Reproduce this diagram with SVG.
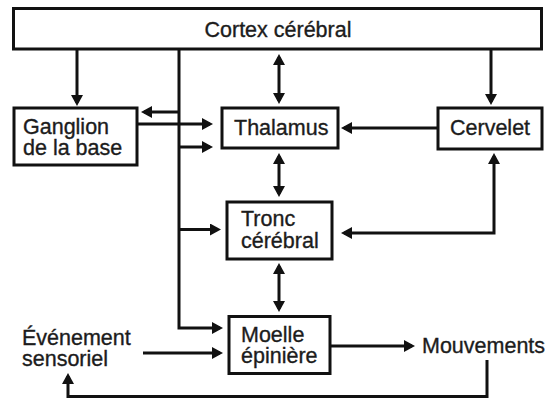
<svg xmlns="http://www.w3.org/2000/svg" width="546" height="403" viewBox="0 0 546 403">
  <style>
    .box { fill: #fff; stroke: #111; stroke-width: 3; }
    .lbl { font-family: "Liberation Sans", Arial, Helvetica, sans-serif; font-size: 21.5px; fill: #1c1c1c; stroke: #1c1c1c; stroke-width: 0.35; }
    .wire { fill: none; stroke: #111; stroke-width: 3; stroke-linejoin: miter; }
    .one { marker-end: url(#head); }
    .two { marker-start: url(#head); marker-end: url(#head); }
  </style>
  <defs>
    <marker id="head" markerUnits="userSpaceOnUse" markerWidth="12" markerHeight="13" refX="8" refY="6" orient="auto-start-reverse" viewBox="0 0 12 13">
      <path d="M0,0 L11,6 L0,12 Z" fill="#111"/>
    </marker>
  </defs>

  <rect width="546" height="403" fill="#fff"/>

  <g id="connectors">
    <path class="wire one" d="M77 49 V103"/>
    <path class="wire one" d="M179 49 V328 H220"/>
    <path class="wire one" d="M179 112 H144"/>
    <path class="wire one" d="M137 124 H210"/>
    <path class="wire one" d="M179 147 H210"/>
    <path class="wire one" d="M179 229.5 H218"/>
    <path class="wire two" d="M279 57 V101"/>
    <path class="wire two" d="M279 156 V194"/>
    <path class="wire two" d="M279 266 V309"/>
    <path class="wire one" d="M491 49 V102"/>
    <path class="wire one" d="M438 128 H344"/>
    <path class="wire two" d="M344 233 H494 V156"/>
    <path class="wire one" d="M143 353 H220"/>
    <path class="wire one" d="M330 346 H412"/>
    <path class="wire one" d="M487 360 V396.5 H68 V376"/>
  </g>

  <g id="cortex">
    <rect class="box" x="13.5" y="8.5" width="528" height="40.5"/>
    <text class="lbl" x="278" y="37" text-anchor="middle">Cortex cérébral</text>
  </g>

  <g id="ganglion">
    <rect class="box" x="14" y="108" width="123" height="57"/>
    <text class="lbl" x="23" y="134">Ganglion</text>
    <text class="lbl" x="23" y="155">de la base</text>
  </g>

  <g id="thalamus">
    <rect class="box" x="222" y="108" width="116" height="40"/>
    <text class="lbl" x="234" y="135">Thalamus</text>
  </g>

  <g id="cervelet">
    <rect class="box" x="438" y="108" width="104" height="41"/>
    <text class="lbl" x="450" y="135">Cervelet</text>
  </g>

  <g id="tronc">
    <rect class="box" x="227" y="202" width="105" height="57"/>
    <text class="lbl" x="241" y="226">Tronc</text>
    <text class="lbl" x="241" y="248">cérébral</text>
  </g>

  <g id="moelle">
    <rect class="box" x="229" y="316.5" width="101" height="57"/>
    <text class="lbl" x="241" y="342">Moelle</text>
    <text class="lbl" x="241" y="363">épinière</text>
  </g>

  <g id="evenement">
    <text class="lbl" x="22" y="345">Événement</text>
    <text class="lbl" x="22" y="366">sensoriel</text>
  </g>

  <g id="mouvements">
    <text class="lbl" x="422" y="353">Mouvements</text>
  </g>
</svg>
